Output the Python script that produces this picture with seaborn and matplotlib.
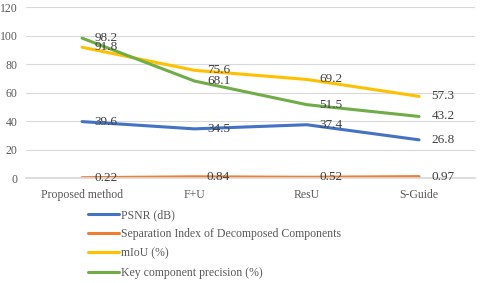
import matplotlib
matplotlib.use("Agg")
import matplotlib.pyplot as plt
import seaborn as sns
import pandas as pd
from matplotlib.lines import Line2D

categories = ["Proposed method", "F+U", "ResU", "S-Guide"]
psnr = [39.6, 34.5, 37.4, 26.8]
sep_index = [0.22, 0.84, 0.52, 0.97]
miou = [91.8, 75.6, 69.2, 57.3]
key_prec = [98.2, 68.1, 51.5, 43.2]
series_names = ["PSNR (dB)", "Separation Index of Decomposed Components",
                "mIoU (%)", "Key component precision (%)"]
series_values = [psnr, sep_index, miou, key_prec]
colors = ["#4472C4", "#ED7D31", "#FFC000", "#70AD47"]
yticks = [0, 20, 40, 60, 80, 100, 120]

rows = []
for name, vals in zip(series_names, series_values):
    for i, (c, v) in enumerate(zip(categories, vals)):
        rows.append({"cat": c, "idx": i, "series": name, "value": v})
df = pd.DataFrame(rows)

sns.set_theme(style="white")
plt.rcParams["font.family"] = ["Liberation Serif", "DejaVu Serif"]
text_color = "#595959"

fig = plt.figure(figsize=(4.8, 2.83), dpi=100)
ax = fig.add_axes([0.054, 0.371, 0.936, 0.604])

sns.lineplot(data=df, x="idx", y="value", hue="series", hue_order=series_names,
             palette=colors, linewidth=2.2, sort=False, ax=ax, legend=False)

for name, vals, col in zip(series_names, series_values, colors):
    for i, v in enumerate(vals):
        ax.annotate(f"{v:g}" if v >= 1 else f"{v:.2f}", (i, v), xytext=(9, 0),
                    textcoords="offset points", ha="left", va="center",
                    fontsize=9.5, color="#404040")

ax.set_xlim(-0.5, len(categories) - 0.5)
ax.set_ylim(0, 120)
ax.set_yticks(yticks)
ax.set_xticks(range(len(categories)))
ax.set_xticklabels(categories)
ax.tick_params(axis="both", labelsize=8.5, colors=text_color, length=0)
ax.tick_params(axis="x", pad=8)
ax.tick_params(axis="y", pad=6)
ax.yaxis.grid(True, color="#D9D9D9", linewidth=0.8)
ax.xaxis.grid(False)
for s in ["top", "right", "left"]:
    ax.spines[s].set_visible(False)
ax.spines["bottom"].set_color("#D9D9D9")
ax.set_xlabel("")
ax.set_ylabel("")

handles = [Line2D([0], [0], color=c, linewidth=2.2) for c in colors]
fig.legend(handles, series_names, loc="upper left", bbox_to_anchor=(0.183, 0.262),
           frameon=False, fontsize=8.5, labelcolor=text_color, handlelength=2.6,
           handletextpad=0.2, labelspacing=0.62, borderaxespad=0, borderpad=0)

fig.savefig("out.png", dpi=100)
